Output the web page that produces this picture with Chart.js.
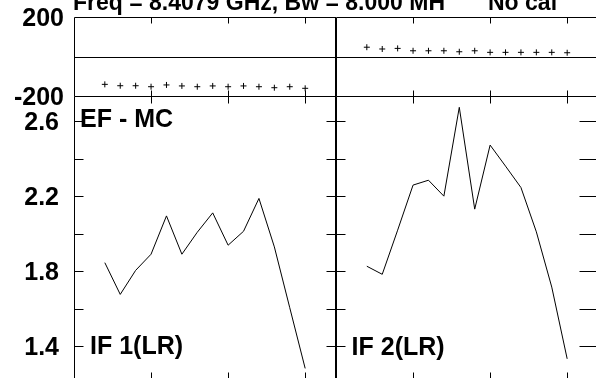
<!DOCTYPE html>
<html>
<head>
<meta charset="utf-8">
<script src="https://cdn.jsdelivr.net/npm/chart.js@4.4.1/dist/chart.umd.min.js"></script>
<style>
  html, body { margin: 0; padding: 0; background: #fff; overflow: hidden; }
  #wrap { position: relative; width: 596px; height: 378px; overflow: hidden;
          font-family: 'Liberation Sans', Arial, sans-serif; font-weight: bold; color: #000; }
  .col { position: absolute; top: 0; }
  #colL { left: 0; }
  #colR { left: 336px; }
  .lbl { position: absolute; font-size: 25px; line-height: 25px; white-space: nowrap; }
  #title, #title2 { font-size: 23px; line-height: 23px; top: -9.5px; }
</style>
</head>
<body>
<div id="wrap">
  <div class="col" id="colL"><canvas id="chartL" width="336" height="400"></canvas></div>
  <div class="col" id="colR"><canvas id="chartR" width="270" height="400"></canvas></div>
  <div class="lbl" id="title" style="left:73px">Freq = 8.4079 GHz, Bw = 8.000 MH</div>
  <div class="lbl" id="title2" style="left:488px">No cal</div>
  <div class="lbl" style="left:80px; top:105.8px">EF - MC</div>
  <div class="lbl" style="left:90px; top:332.8px">IF 1(LR)</div>
  <div class="lbl" style="left:351.6px; top:333.8px">IF 2(LR)</div>
</div>
<script>
// channel numbers (x)
const channels = [2, 3, 4, 5, 6, 7, 8, 9, 10, 11, 12, 13, 14, 15];

// phase (deg), top panels
const phaseIF1 = [-141, -148, -148, -153, -144, -149, -153, -149, -153, -149, -153, -158, -153, -161];
const phaseIF2 = [47, 38, 41, 29, 29, 29, 24, 29, 21, 21, 21, 21, 21, 19];

// amplitude, bottom panels
const ampIF1 = [1.846, 1.677, 1.805, 1.891, 2.095, 1.891, 2.008, 2.111, 1.939, 2.013, 2.188, 1.930, 1.606, 1.283];
const ampIF2 = [1.827, 1.784, 2.019, 2.259, 2.285, 2.200, 2.673, 2.131, 2.472, 2.360, 2.246, 2.010, 1.716, 1.334];

// ticks
const xTicks = [5, 10, 15];
const phaseTicks = [-200, 200];
const ampTicks = [1.4, 1.6, 1.8, 2.0, 2.2, 2.4, 2.6];
const ampLabels = [1.4, 1.8, 2.2, 2.6];

const tickFont = { family: 'Liberation Sans', size: 25, weight: 'bold' };

// frame + inward tick marks for each panel
const framePlugin = {
  id: 'frame',
  afterDatasetsDraw(chart, args, opts) {
    const ctx = chart.ctx;
    const area = chart.chartArea;
    const xs = chart.scales.x;
    const yT = chart.scales.yT;
    const yB = chart.scales.yB;
    const L = Math.round(area.left) + 0.5;
    const R = Math.round(area.right) - 0.5;
    const px = v => Math.round(xs.getPixelForValue(v)) + 0.5;
    const py = (s, v) => Math.round(s.getPixelForValue(v)) + 0.5;

    ctx.save();
    ctx.strokeStyle = '#000';
    ctx.lineWidth = 1;
    ctx.beginPath();
    // top panel
    const tTop = Math.round(yT.top) + 0.5, tBot = Math.round(yT.bottom) + 0.5;
    ctx.moveTo(L, tTop); ctx.lineTo(R + 1, tTop);
    ctx.moveTo(L, tBot); ctx.lineTo(R + 1, tBot);
    ctx.moveTo(L, tTop); ctx.lineTo(L, tBot);
    ctx.moveTo(R, tTop); ctx.lineTo(R, tBot);
    const z = py(yT, 0);
    ctx.moveTo(L, z); ctx.lineTo(R + 1, z);
    xTicks.forEach(v => {
      ctx.moveTo(px(v), tTop); ctx.lineTo(px(v), tTop + 6);
      ctx.moveTo(px(v), tBot); ctx.lineTo(px(v), tBot - 6);
    });
    // bottom panel
    const bTop = tBot, bBot = Math.round(yB.bottom) + 0.5;
    ctx.moveTo(L, bTop); ctx.lineTo(L, bBot);
    ctx.moveTo(R, bTop); ctx.lineTo(R, bBot);
    ctx.moveTo(L, bBot); ctx.lineTo(R, bBot);
    xTicks.forEach(v => {
      ctx.moveTo(px(v), bTop); ctx.lineTo(px(v), bTop + 7);
      ctx.moveTo(px(v), bBot); ctx.lineTo(px(v), bBot - 12);
    });
    ampTicks.forEach(v => {
      ctx.moveTo(L, py(yB, v)); ctx.lineTo(L + 9, py(yB, v));
      ctx.moveTo(R, py(yB, v)); ctx.lineTo(R - opts.rightTick, py(yB, v));
    });
    ctx.stroke();
    ctx.restore();
  }
};

function fixWidth(s, w) {
  s.width = w;
  s.paddingTop = 0;
  s.paddingBottom = 0;
}

function makeColumn(id, phase, amp, showLabels, rightTick, padRight) {
  const axisW = showLabels ? 74 : 0;
  return new Chart(document.getElementById(id), {
    type: 'line',
    data: {
      datasets: [
        {
          data: channels.map((c, i) => ({ x: c, y: phase[i] })),
          yAxisID: 'yT',
          showLine: false,
          pointStyle: 'cross',
          pointRadius: 3,
          pointBorderColor: '#000',
          pointBorderWidth: 1,
          borderColor: '#000'
        },
        {
          data: channels.map((c, i) => ({ x: c, y: amp[i] })),
          yAxisID: 'yB',
          borderColor: '#000',
          borderWidth: 1,
          pointRadius: 0,
          tension: 0,
          fill: false
        }
      ]
    },
    options: {
      responsive: false,
      animation: false,
      events: [],
      layout: { autoPadding: false, padding: { top: 17, bottom: 16, left: 0, right: padRight } },
      plugins: { legend: { display: false }, tooltip: { enabled: false }, frame: { rightTick: rightTick } },
      scales: {
        x: {
          type: 'linear', min: 0, max: 17,
          display: false
        },
        yB: {
          position: 'left', stack: 'col', stackWeight: 288,
          min: 1.2, max: 2.7333,
          grid: { display: false, drawTicks: false },
          border: { display: false },
          afterBuildTicks: s => { s.ticks = ampTicks.map(v => ({ value: v })); },
          afterFit: s => fixWidth(s, axisW),
          ticks: {
            display: showLabels, autoSkip: false, padding: 15, labelOffset: 2,
            color: '#000', font: tickFont,
            callback: v => ampLabels.some(a => Math.abs(a - v) < 1e-6) ? v.toFixed(1) : ''
          }
        },
        yT: {
          position: 'left', stack: 'col', stackWeight: 79,
          min: -200, max: 200,
          grid: { display: false, drawTicks: false },
          border: { display: false },
          afterBuildTicks: s => { s.ticks = phaseTicks.map(v => ({ value: v })); },
          afterFit: s => fixWidth(s, axisW),
          ticks: {
            display: showLabels, autoSkip: false, padding: 10, labelOffset: 2,
            color: '#000', font: tickFont,
            callback: v => String(v)
          }
        }
      }
    },
    plugins: [framePlugin]
  });
}

makeColumn('chartL', phaseIF1, ampIF1, true, 9, 0);
makeColumn('chartR', phaseIF2, ampIF2, false, 18, 8);
</script>
</body>
</html>
